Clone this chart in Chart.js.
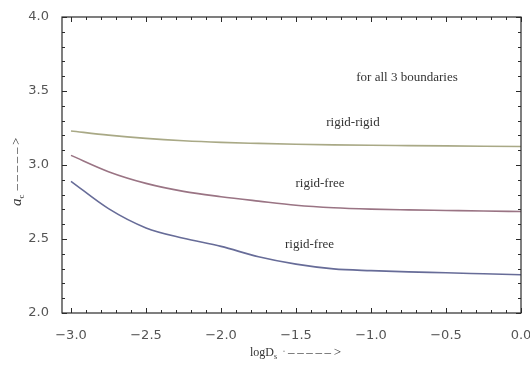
<!DOCTYPE html>
<html><head><meta charset="utf-8">
<script src="https://cdn.jsdelivr.net/npm/chart.js@4"></script>
<style>html,body{margin:0;padding:0;background:#fff;}#wrap{width:530px;height:369px;position:relative;}</style>
</head><body><div id="wrap"><canvas id="c" width="530" height="369"></canvas></div>
<script>
// ---- data ----
const logD = [-3.0, -2.75, -2.5, -2.25, -2.0, -1.75, -1.5, -1.25, -1.0, -0.75, -0.5, -0.25, 0.0];
const rigidRigid = [3.23, 3.202, 3.18, 3.164, 3.153, 3.146, 3.14, 3.136, 3.133, 3.131, 3.129, 3.127, 3.125];
const rigidFreeUpper = [3.065, 2.955, 2.876, 2.822, 2.786, 2.756, 2.728, 2.711, 2.702, 2.697, 2.693, 2.689, 2.686];
const rigidFreeLower = [2.89, 2.705, 2.575, 2.505, 2.45, 2.38, 2.33, 2.298, 2.286, 2.278, 2.272, 2.265, 2.258];
const xTickValues = [-3.0, -2.5, -2.0, -1.5, -1.0, -0.5, 0.0];
const yTickValues = [2.0, 2.5, 3.0, 3.5, 4.0];
const noteTexts = ['for all 3 boundaries', 'rigid-rigid', 'rigid-free', 'rigid-free'];
const noteX = [-0.76, -1.12, -1.34, -1.41];
const noteY = [3.59, 3.286, 2.875, 2.465];

const fmt = v => (v < 0 ? '\u2212' : '') + Math.abs(v).toFixed(1);
const ARROW = '\u2013\u2009\u2013\u2009\u2013\u2009\u2013\u2009\u2013\u2009>';

const frameTicks = {
  id: 'frameTicks',
  afterDraw(chart) {
    const {ctx, chartArea: a, scales: {x, y}} = chart;
    ctx.save();
    ctx.strokeStyle = '#2a2a2a';
    ctx.lineWidth = 1.2;
    ctx.strokeRect(a.left, a.top, a.right - a.left, a.bottom - a.top);
    ctx.lineWidth = 1;
    for (let i = -30; i <= 0; i++) {
      const px = Math.round(x.getPixelForValue(i / 10)) + 0.5;
      const len = i % 5 === 0 ? 5 : 3;
      ctx.beginPath();
      ctx.moveTo(px, a.bottom); ctx.lineTo(px, a.bottom - len);
      ctx.moveTo(px, a.top); ctx.lineTo(px, a.top + len);
      ctx.stroke();
    }
    for (let i = 20; i <= 40; i++) {
      const py = Math.round(y.getPixelForValue(i / 10)) + 0.5;
      const len = i % 5 === 0 ? 5 : 3;
      ctx.beginPath();
      ctx.moveTo(a.left, py); ctx.lineTo(a.left + len, py);
      ctx.moveTo(a.right, py); ctx.lineTo(a.right - len, py);
      ctx.stroke();
    }
    ctx.restore();
  },
  afterDatasetsDraw(chart) {
    const {ctx, scales: {x, y}} = chart;
    ctx.save();
    ctx.fillStyle = '#333';
    ctx.font = '13px "Liberation Serif"';
    ctx.textAlign = 'center';
    ctx.textBaseline = 'middle';
    noteTexts.forEach((t, i) => {
      ctx.fillText(t, x.getPixelForValue(noteX[i]), y.getPixelForValue(noteY[i]));
    });
    ctx.restore();
    ctx.save();
    ctx.fillStyle = '#333';
    ctx.textBaseline = 'alphabetic';
    // x title
    let cx = 250, cy = 356;
    ctx.font = '12px "Liberation Serif"';
    ctx.fillText('logD', cx, cy); cx += ctx.measureText('logD').width;
    ctx.font = '8px "Liberation Serif"';
    ctx.fillText('s', cx, cy + 3); cx += ctx.measureText('s').width + 5;
    ctx.font = '12px "Liberation Serif"';
    ctx.fillStyle = '#999';
    ctx.fillText('\u00b7', cx, cy - 1); cx += 6;
    ctx.fillStyle = '#333';
    ctx.font = '13px "Liberation Serif"';
    ctx.fillText(ARROW, cx, cy);
    // y title (rotated)
    ctx.translate(21, 206);
    ctx.rotate(-Math.PI / 2);
    let ty = 0;
    ctx.font = 'italic 15px "Liberation Serif"';
    ctx.fillText('a', ty, 0); ty += ctx.measureText('a').width;
    ctx.font = '9px "Liberation Serif"';
    ctx.fillText('c', ty, 3); ty += ctx.measureText('c').width + 4;
    ctx.font = '13px "Liberation Serif"';
    ctx.fillText(ARROW, ty, -1);
    ctx.restore();
  }
};

new Chart(document.getElementById('c'), {
  type: 'line',
  data: {
    labels: logD,
    datasets: [
      {data: logD.map((v, i) => ({x: v, y: rigidRigid[i]})), borderColor: '#a9a986'},
      {data: logD.map((v, i) => ({x: v, y: rigidFreeUpper[i]})), borderColor: '#9a7484'},
      {data: logD.map((v, i) => ({x: v, y: rigidFreeLower[i]})), borderColor: '#676c98'}
    ].map(d => Object.assign(d, {borderWidth: 1.6, pointRadius: 0, fill: false, cubicInterpolationMode: 'monotone'}))
  },
  options: {
    responsive: false,
    animation: false,
    devicePixelRatio: 1,
    layout: {padding: {top: 17, right: 9, left: 0, bottom: 0}},
    plugins: {legend: {display: false}, tooltip: {enabled: false}},
    scales: {
      x: {
        type: 'linear', min: -3.06, max: 0.0,
        grid: {display: false}, border: {display: false},
        afterBuildTicks: s => { s.ticks = xTickValues.map(v => ({value: v})); },
        afterFit: s => { s.height = 56; s.paddingLeft = 0; s.paddingRight = 0; },
        ticks: {padding: 7, color: '#555', font: {family: 'DejaVu Sans', size: 13}, callback: v => fmt(v), maxRotation: 0, autoSkip: false}
      },
      y: {
        type: 'linear', min: 2.0, max: 4.0,
        grid: {display: false}, border: {display: false},
        afterBuildTicks: s => { s.ticks = yTickValues.map(v => ({value: v})); },
        afterFit: s => { s.width = 62; s.paddingTop = 0; s.paddingBottom = 0; },
        ticks: {padding: 5, color: '#555', font: {family: 'DejaVu Sans', size: 13}, callback: v => fmt(v)}
      }
    }
  },
  plugins: [frameTicks]
});
</script></body></html>
